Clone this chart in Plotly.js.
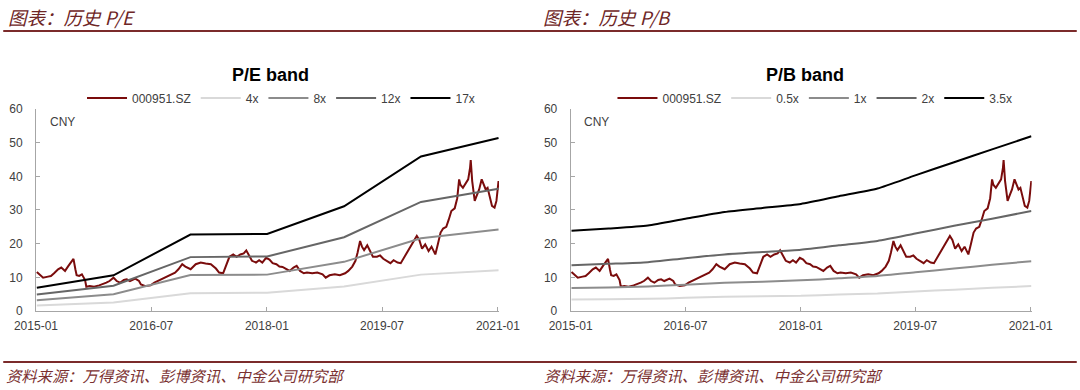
<!DOCTYPE html>
<html>
<head>
<meta charset="utf-8">
<script src="https://cdn.plot.ly/plotly-3.0.1.min.js"></script>
<style>html,body{margin:0;padding:0;background:#fff;}#chart{width:1080px;height:390px;}</style>
</head>
<body>
<div id="chart"></div>
<script>
// ---- data ----
const priceName = '000951.SZ';
const priceDates = [
'2015-01-05','2015-01-20','2015-02-04','2015-02-27','2015-03-13','2015-03-28','2015-04-16','2015-05-01','2015-05-19','2015-06-04','2015-06-16','2015-06-28','2015-07-07','2015-07-13','2015-07-25','2015-08-07','2015-08-22','2015-08-28','2015-09-13','2015-10-04','2015-10-28','2015-11-13','2015-12-01','2015-12-16',
'2016-01-04','2016-01-19','2016-02-04','2016-02-22','2016-03-07','2016-03-22','2016-04-16','2016-05-04','2016-05-13','2016-06-04','2016-06-28','2016-07-16','2016-08-10','2016-09-04','2016-09-28','2016-10-22','2016-11-07','2016-11-25','2016-12-10',
'2017-01-04','2017-01-28','2017-02-21','2017-03-16','2017-04-10','2017-05-04','2017-05-19','2017-06-07','2017-06-22','2017-07-07','2017-07-25','2017-08-10','2017-08-28','2017-09-13','2017-09-25','2017-10-07','2017-10-22','2017-11-10','2017-11-25','2017-12-10','2017-12-28',
'2018-01-13','2018-01-28','2018-02-15','2018-03-01','2018-03-16','2018-04-04','2018-04-19','2018-05-07','2018-05-22','2018-06-07','2018-06-25','2018-07-10','2018-08-04','2018-08-28','2018-09-22','2018-10-07','2018-10-25','2018-11-19','2018-12-13',
'2019-01-07','2019-01-22','2019-02-10','2019-02-25','2019-03-07','2019-03-19','2019-03-28','2019-04-07','2019-04-22','2019-05-04','2019-05-19','2019-06-07','2019-06-22','2019-07-07','2019-07-25','2019-08-10','2019-08-25','2019-09-13','2019-09-28','2019-10-13','2019-11-01','2019-11-16','2019-12-01','2019-12-13','2019-12-25',
'2020-01-07','2020-01-22','2020-02-07','2020-02-21','2020-03-10','2020-03-22','2020-04-04','2020-04-16','2020-05-01','2020-05-13','2020-05-25','2020-06-10','2020-06-22','2020-07-01','2020-07-07','2020-07-19','2020-08-04','2020-08-13','2020-08-22','2020-08-25','2020-09-01','2020-09-13','2020-09-22','2020-10-04','2020-10-16','2020-10-25','2020-11-04','2020-11-13','2020-11-25','2020-12-04','2020-12-16','2020-12-25',
'2021-01-04'
];
const priceValues = [
11.6,10.6,9.9,10.2,10.4,11.2,12.4,12.9,11.9,13.4,14.4,15.5,12.4,10.6,10.4,10.9,9.2,7.2,7.4,7.2,7.6,7.9,8.4,8.9,
9.9,8.9,8.4,9.2,9.4,8.9,9.6,8.9,7.9,7.4,7.6,8.4,9.2,9.9,10.6,11.4,12.4,13.9,13.2,
12.4,13.9,14.4,14.1,13.9,12.6,11.4,11.2,13.9,16.1,16.8,16.1,16.8,17.1,18.0,16.5,14.9,14.4,15.1,14.4,15.8,
15.3,14.2,13.9,13.2,13.1,12.4,11.9,12.9,13.4,11.9,11.2,11.4,11.2,11.4,10.9,9.9,10.6,10.9,10.6,
11.2,11.9,13.2,14.9,17.3,20.8,19.1,18.1,19.5,17.8,16.1,16.1,16.5,15.5,14.9,14.2,15.1,14.4,14.2,15.8,17.8,19.1,21.1,22.3,21.1,
18.5,19.8,17.8,19.1,16.8,19.8,23.3,24.5,25.0,27.2,29.7,30.5,33.5,39.1,37.5,36.6,38.1,39.1,42.6,44.8,38.6,32.7,34.2,36.1,39.1,37.6,36.1,36.6,33.7,31.2,30.7,32.7,
38.6
];

// P/E band (annual EPS steps)
const peBandDates = ['2015-01-05','2016-01-04','2017-01-03','2018-01-02','2019-01-02','2020-01-02','2021-01-04'];
const peBandNames = ['4x','8x','12x','17x'];
const pe4x  = [1.6, 2.5, 5.3, 5.4, 7.3, 10.8, 12.1];
const pe8x  = [3.2, 5.0, 10.7, 10.8, 14.6, 21.6, 24.2];
const pe12x = [4.9, 7.5, 16.0, 16.2, 21.9, 32.4, 36.3];
const pe17x = [6.9, 10.6, 22.7, 22.9, 31.1, 45.9, 51.4];

// P/B band (semi-annual BVPS)
const pbBandDates = ['2015-01-05','2015-07-01','2016-01-04','2016-07-01','2017-01-03','2017-07-03','2018-01-02','2018-07-02','2019-01-02','2019-07-01','2020-01-02','2020-07-01','2021-01-04'];
const pbBandNames = ['0.5x','1x','2x','3.5x'];
const pb05x = [3.4, 3.5, 3.6, 3.9, 4.2, 4.4, 4.5, 4.9, 5.2, 5.8, 6.3, 6.9, 7.4];
const pb1x  = [6.8, 7.0, 7.3, 7.8, 8.4, 8.7, 9.1, 9.7, 10.4, 11.5, 12.6, 13.7, 14.8];
const pb2x  = [13.6, 14.0, 14.5, 15.7, 16.8, 17.5, 18.2, 19.5, 20.8, 23.0, 25.3, 27.4, 29.7];
const pb35x = [23.8, 24.5, 25.4, 27.4, 29.4, 30.6, 31.8, 34.1, 36.4, 40.3, 44.2, 48.0, 51.9];

const xTickVals = ['2015-01-01','2016-07-01','2018-01-01','2019-07-01','2021-01-01'];
const xTickText = ['2015-01','2016-07','2018-01','2019-07','2021-01'];
const yTickVals = [0,10,20,30,40,50,60];

const leftTitle = 'P/E band';
const rightTitle = 'P/B band';
const leftHeader = '图表：历史 P/E';
const rightHeader = '图表：历史 P/B';
const sourceText = '资料来源：万得资讯、彭博资讯、中金公司研究部';
const unitText = 'CNY';

// ---- styles ----
const priceColor = '#7a0c0c';
const bandColors = ['#d9d9d9','#8c8c8c','#666666','#000000'];
const maroon = '#6e2626';

function band(x, y, name, color, xa, ya, lg, shape) {
  return {x:x, y:y, name:name, type:'scatter', mode:'lines', xaxis:xa, yaxis:ya, legend:lg,
    line:{color:color, width:2, shape:shape||'linear', smoothing:0.6}, hoverinfo:'skip'};
}

const traces = [
  {x:priceDates, y:priceValues, name:priceName, type:'scatter', mode:'lines', xaxis:'x', yaxis:'y', legend:'legend',
   line:{color:priceColor, width:2}, hoverinfo:'skip'},
  band(peBandDates, pe4x,  peBandNames[0], bandColors[0], 'x','y','legend'),
  band(peBandDates, pe8x,  peBandNames[1], bandColors[1], 'x','y','legend'),
  band(peBandDates, pe12x, peBandNames[2], bandColors[2], 'x','y','legend'),
  band(peBandDates, pe17x, peBandNames[3], bandColors[3], 'x','y','legend'),
  {x:priceDates, y:priceValues, name:priceName, type:'scatter', mode:'lines', xaxis:'x2', yaxis:'y2', legend:'legend2',
   line:{color:priceColor, width:2}, hoverinfo:'skip'},
  band(pbBandDates, pb05x, pbBandNames[0], bandColors[0], 'x2','y2','legend2','spline'),
  band(pbBandDates, pb1x,  pbBandNames[1], bandColors[1], 'x2','y2','legend2','spline'),
  band(pbBandDates, pb2x,  pbBandNames[2], bandColors[2], 'x2','y2','legend2','spline'),
  band(pbBandDates, pb35x, pbBandNames[3], bandColors[3], 'x2','y2','legend2','spline')
];

const axisColor = '#a6a6a6';
const tickFont = {family:'Liberation Sans, Arial, sans-serif', size:12, color:'#404040'};
function xAxis(domain, anchor) {
  return {domain:domain, anchor:anchor, type:'date', range:['2015-01-01','2021-01-06'],
    tickmode:'array', tickvals:xTickVals, ticktext:xTickText, showline:true, linecolor:axisColor, linewidth:1,
    ticks:'inside', ticklen:4, tickcolor:axisColor, showgrid:false, zeroline:false, tickfont:tickFont,
    ticklabelstandoff:4, fixedrange:true};
}
function yAxis(anchor) {
  return {domain:[0.2026,0.7205], anchor:anchor, range:[0,60], tickmode:'array', tickvals:yTickVals,
    showline:true, linecolor:axisColor, linewidth:1, ticks:'inside', ticklen:4, tickcolor:axisColor,
    showgrid:false, zeroline:false, tickfont:tickFont, ticklabelstandoff:10, fixedrange:true};
}
const cjkFont = '"Noto Sans CJK SC", "Noto Sans CJK JP", sans-serif';
const legendBase = {orientation:'h', xanchor:'center', yanchor:'middle', y:0.7487,
  font:{family:'Liberation Sans, Arial, sans-serif', size:12, color:'#404040'}, bgcolor:'rgba(0,0,0,0)',
  itemwidth:40, tracegroupgap:0};

const layout = {
  width:1080, height:390, margin:{l:0,r:0,t:0,b:0},
  paper_bgcolor:'#ffffff', plot_bgcolor:'rgba(0,0,0,0)',
  font:{family:'Liberation Sans, Arial, sans-serif', size:12, color:'#404040'},
  showlegend:true,
  xaxis:xAxis([0.0333,0.4620],'y'),
  yaxis:yAxis('x'),
  xaxis2:xAxis([0.5284,0.9553],'y2'),
  yaxis2:yAxis('x2'),
  legend:Object.assign({}, legendBase, {x:0.2602}),
  legend2:Object.assign({}, legendBase, {x:0.7546}),
  shapes:[
    {type:'line', xref:'paper', yref:'paper', x0:0.003, x1:0.997, y0:0.9205, y1:0.9205, line:{color:'#7b2b2b', width:2}},
    {type:'line', xref:'paper', yref:'paper', x0:0.003, x1:0.997, y0:0.0718, y1:0.0718, line:{color:'#7b2b2b', width:2}}
  ],
  annotations:[
    {text:leftHeader, xref:'paper', yref:'paper', x:0.0055, y:0.9564, xanchor:'left', yanchor:'middle', showarrow:false,
     font:{family:cjkFont, size:18.5, color:maroon, style:'italic'}},
    {text:rightHeader, xref:'paper', yref:'paper', x:0.5005, y:0.9564, xanchor:'left', yanchor:'middle', showarrow:false,
     font:{family:cjkFont, size:18.5, color:maroon, style:'italic'}},
    {text:sourceText, xref:'paper', yref:'paper', x:0.0035, y:0.0385, xanchor:'left', yanchor:'middle', showarrow:false,
     font:{family:cjkFont, size:15.3, color:'#7a3030', style:'italic'}},
    {text:sourceText, xref:'paper', yref:'paper', x:0.5020, y:0.0385, xanchor:'left', yanchor:'middle', showarrow:false,
     font:{family:cjkFont, size:15.3, color:'#7a3030', style:'italic'}},
    {text:'<b>'+leftTitle+'</b>', xref:'paper', yref:'paper', x:0.25, y:0.8077, xanchor:'center', yanchor:'middle', showarrow:false,
     font:{family:'Liberation Sans, Arial, sans-serif', size:18, color:'#000000'}},
    {text:'<b>'+rightTitle+'</b>', xref:'paper', yref:'paper', x:0.7454, y:0.8077, xanchor:'center', yanchor:'middle', showarrow:false,
     font:{family:'Liberation Sans, Arial, sans-serif', size:18, color:'#000000'}},
    {text:unitText, xref:'paper', yref:'paper', x:0.0444, y:0.6872, xanchor:'left', yanchor:'middle', showarrow:false,
     font:{family:'Liberation Sans, Arial, sans-serif', size:12, color:'#404040'}},
    {text:unitText, xref:'paper', yref:'paper', x:0.5386, y:0.6872, xanchor:'left', yanchor:'middle', showarrow:false,
     font:{family:'Liberation Sans, Arial, sans-serif', size:12, color:'#404040'}}
  ]
};

Plotly.newPlot('chart', traces, layout, {displayModeBar:false, staticPlot:true});
</script>
</body>
</html>
